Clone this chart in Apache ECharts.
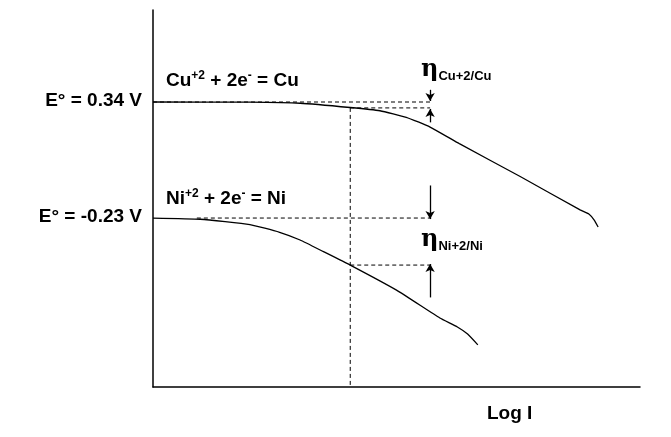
<!DOCTYPE html>
<html><head><meta charset="utf-8">
<script src="https://cdn.jsdelivr.net/npm/echarts@6/dist/echarts.min.js"></script>
<style>html,body{margin:0;background:#fff}#c{width:671px;height:437px}</style>
</head><body><div id="c"></div>
<script>
// x = log I (arbitrary units 0..100), y = potential E (V)
var cuCurve = [[0,0.34],[19.9,0.339],[30.2,0.334],[40.5,0.313],[46.6,0.297],[52,0.265],[56.9,0.217],[63.0,0.134],[75.4,-0.026],[87.7,-0.19],[89.5,-0.21],[90.6,-0.24],[91.4,-0.274]];
var niCurve = [[0,-0.23],[9.7,-0.236],[19.9,-0.262],[26,-0.3],[30.2,-0.338],[35,-0.395],[40.5,-0.461],[50,-0.584],[58.9,-0.721],[62.5,-0.765],[64.6,-0.8],[66.7,-0.853]];
var eCu = 0.34, eNi = -0.23;
var iMark = 40.5;       // log I of the dashed vertical
var etaX = 56.9;        // where the overpotential arrows sit
var cuAtI = 0.311, niAtI = -0.461;

var chart = echarts.init(document.getElementById('c'));
var dash = {color:'#000', type:[4,3], width:1};
var arrowSeg = function(a, b){ return [{coord:a},{coord:b}]; };
chart.setOption({
  animation:false,
  grid:{left:153, top:10, width:487, height:377},
  xAxis:{type:'value', min:0, max:100, axisLine:{onZero:false,lineStyle:{color:'#000',width:1.5}},
    axisTick:{show:false}, axisLabel:{show:false}, splitLine:{show:false}},
  yAxis:{type:'value', min:-1.06, max:0.792, axisLine:{show:true,onZero:false,lineStyle:{color:'#000',width:1.5}},
    axisTick:{show:false}, axisLabel:{show:false}, splitLine:{show:false}},
  series:[
    {type:'line', data:cuCurve, smooth:0.15, symbol:'none', lineStyle:{color:'#000',width:1.3}},
    {type:'line', data:niCurve, smooth:0.15, symbol:'none', lineStyle:{color:'#000',width:1.3}},
    {type:'line', data:[[0,eCu],[etaX,eCu]], symbol:'none', lineStyle:dash},
    {type:'line', data:[[iMark,cuAtI],[etaX,cuAtI]], symbol:'none', lineStyle:dash},
    {type:'line', data:[[9,eNi],[etaX,eNi]], symbol:'none', lineStyle:dash},
    {type:'line', data:[[iMark,niAtI],[etaX,niAtI]], symbol:'none', lineStyle:dash},
    {type:'line', data:[[iMark,cuAtI],[iMark,-1.06]], symbol:'none', lineStyle:dash},
    {type:'line', data:[], markLine:{silent:true, symbol:['none','arrow'], symbolSize:[7,8],
      label:{show:false}, lineStyle:{color:'#000',type:'solid',width:1.3},
      data:[arrowSeg([etaX,0.40],[etaX,eCu+0.005]), arrowSeg([etaX,0.24],[etaX,cuAtI-0.005]),
            arrowSeg([etaX,-0.07],[etaX,eNi-0.005]), arrowSeg([etaX,-0.62],[etaX,niAtI+0.005])]}}
  ],
  graphic:[
    {type:'text', right:529, top:91, style:{text:'E° = 0.34 V', font:'bold 19px "Liberation Sans"', fill:'#000'}},
    {type:'text', right:529, top:207, style:{text:'E° = -0.23 V', font:'bold 19px "Liberation Sans"', fill:'#000'}},
    {type:'text', left:166, top:70, style:{text:'Cu{s|+2} + 2e{s|-} = Cu', font:'bold 19px "Liberation Sans"', fill:'#000',
      rich:{s:{fontSize:12, fontWeight:'bold', fontFamily:'Liberation Sans', verticalAlign:'top', padding:[0,0,10,0]}}}},
    {type:'text', left:166, top:188, style:{text:'Ni{s|+2} + 2e{s|-} = Ni', font:'bold 19px "Liberation Sans"', fill:'#000',
      rich:{s:{fontSize:12, fontWeight:'bold', fontFamily:'Liberation Sans', verticalAlign:'top', padding:[0,0,10,0]}}}},
    {type:'text', left:421, top:58, style:{text:'η{b|Cu+2/Cu}', font:'bold 24px "DejaVu Serif"', fill:'#000',
      rich:{b:{fontSize:13, fontWeight:'bold', fontFamily:'Liberation Sans', padding:[12,0,0,0]}}}},
    {type:'text', left:421, top:228, style:{text:'η{b|Ni+2/Ni}', font:'bold 24px "DejaVu Serif"', fill:'#000',
      rich:{b:{fontSize:13, fontWeight:'bold', fontFamily:'Liberation Sans', padding:[12,0,0,0]}}}},
    {type:'text', left:487, top:404, style:{text:'Log I', font:'bold 19px "Liberation Sans"', fill:'#000'}}
  ]
});
</script></body></html>
